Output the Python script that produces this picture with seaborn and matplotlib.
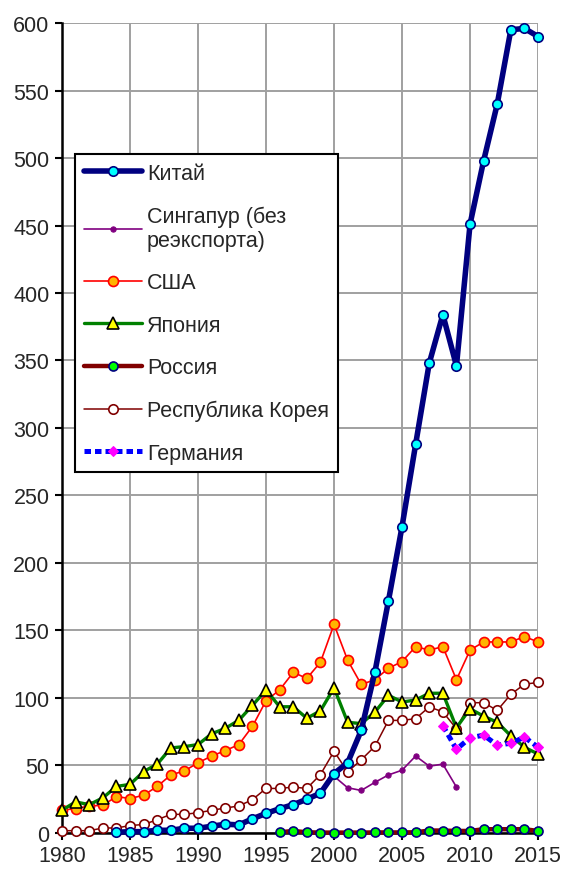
import numpy as np
import matplotlib
matplotlib.use("Agg")
import matplotlib.pyplot as plt
import seaborn as sns

nan = np.nan

# Data
years = list(range(1980, 2016))

china = [nan, nan, nan, nan, 0.5, 1, 1, 2, 2, 3.5, 3.5, 5, 6.5, 6, 10.5, 14.5,
         18, 21, 25, 29.5, 44, 52, 76, 119, 172, 227, 288, 348, 384, 346,
         451, 498, 540, 595, 596, 590]

singapore = [nan] * 20 + [42, 33.5, 31.5, 37.5, 43, 46.5, 57, 49.5, 51, 34,
                          nan, nan, nan, nan, nan, nan]

usa = [17, 18, 20, 20.5, 27, 25.5, 28, 34.5, 43, 46, 52, 57, 61, 65.5, 79, 98,
       106, 119, 114.5, 126.5, 154.5, 128, 110, 113.5, 122, 127, 138, 135.5,
       138, 113.5, 135.5, 141.5, 141.5, 141.5, 145.5, 141.5]

japan = [17, 23, 21, 26, 34.5, 36, 45.5, 51, 63, 64, 65.5, 73.5, 77.5, 83.5,
         94.5, 106, 93.5, 93.5, 85, 90.5, 107.5, 82, 81, 89.5, 102, 97, 98.5,
         103.5, 103.5, 78, 92, 86.5, 82, 72, 63.5, 58.5]

russia = [nan] * 16 + [0.5, 1.5, 0.5, 0.3, 0.3, 0.3, 0.3, 0.4, 0.4, 0.4, 0.5,
                       1.8, 1.8, 1.5, 1.5, 2.8, 2.8, 2.8, 2.8, 1.5]

korea = [1.7, 1.7, 1.7, 3.7, 3.7, 5.5, 6.3, 9.8, 13.8, 13.8, 15, 16.8, 18.5,
         20, 24.7, 33, 33, 34, 33, 43.3, 60.5, 45.3, 54.2, 64.2, 83.4, 83.4,
         84.7, 93.4, 89.7, 77.2, 96.5, 96.5, 90.8, 102.7, 110.2, 111.5]

germany = [nan] * 28 + [79.5, 62, 70.5, 72.5, 65, 66.5, 71, 63.5]

labels = ["Китай", "Сингапур (без\nреэкспорта)", "США", "Япония", "Россия",
          "Республика Корея", "Германия"]

sns.set_theme(style="ticks")
plt.rcParams['font.family'] = ['Liberation Sans', 'DejaVu Sans']

fig, ax = plt.subplots(figsize=(5.64, 8.70), dpi=100)
fig.subplots_adjust(left=0.11, right=0.954, bottom=0.0414, top=0.9724)

common = dict(ax=ax, clip_on=False)

sns.lineplot(x=years, y=china, color="#000080", lw=4.0, marker="o",
             markersize=6.8, markerfacecolor="#00ffff", markeredgecolor="#000080",
             markeredgewidth=1.2, label=labels[0], zorder=10, **common)
sns.lineplot(x=years, y=singapore, color="#800080", lw=1.2, marker="o",
             markersize=3.8, markerfacecolor="#800080", markeredgecolor="#800080",
             label=labels[1], zorder=5, **common)
sns.lineplot(x=years, y=usa, color="#ff0000", lw=1.2, marker="o",
             markersize=7.2, markerfacecolor="#ffb400", markeredgecolor="#ff0000",
             markeredgewidth=1.2, label=labels[2], zorder=6, **common)
sns.lineplot(x=years, y=japan, color="#008000", lw=2.4, marker="^",
             markersize=8.5, markerfacecolor="#ffff00", markeredgecolor="#000000",
             markeredgewidth=1.2, label=labels[3], zorder=7, **common)
sns.lineplot(x=years, y=russia, color="#800000", lw=3.2, marker="o",
             markersize=6.5, markerfacecolor="#00ff00", markeredgecolor="#000080",
             markeredgewidth=1.2, label=labels[4], zorder=8, **common)
sns.lineplot(x=years, y=korea, color="#800000", lw=1.1, marker="o",
             markersize=6.8, markerfacecolor="white", markeredgecolor="#800000",
             markeredgewidth=1.2, label=labels[5], zorder=6.5, **common)
sns.lineplot(x=years, y=germany, color="#0000ff", lw=3.6, linestyle=(0, (1.3, 0.8)),
             marker="D", markersize=5, markerfacecolor="#ff00ff",
             markeredgecolor="#ff00ff", label=labels[6], zorder=9, **common)

ax.set_xlim(1980, 2015)
ax.set_ylim(0, 600)
ax.set_xticks(range(1980, 2016, 5))
ax.set_yticks(range(0, 601, 50))
ax.set_xlabel("")
ax.set_ylabel("")
ax.grid(True, color="#a0a0a0", lw=1.4)
ax.set_axisbelow(True)
for s in ["top", "right"]:
    ax.spines[s].set_visible(False)
for s in ["left", "bottom"]:
    ax.spines[s].set_color("black")
    ax.spines[s].set_linewidth(1.8)
    ax.spines[s].set_zorder(4)
ax.tick_params(axis="both", labelsize=15.5, length=5, width=1.5, color="black",
               direction="out", pad=4)

leg = ax.legend(loc="upper left", bbox_to_anchor=(0.027, 0.838), borderaxespad=0,
                fontsize=15.5, handlelength=2.7, handletextpad=0.25,
                labelspacing=1.0, fancybox=False, framealpha=1,
                edgecolor="black", borderpad=0.4)
leg.get_frame().set_linewidth(1.5)
leg.set_zorder(20)

fig.savefig("out.png", dpi=100)
